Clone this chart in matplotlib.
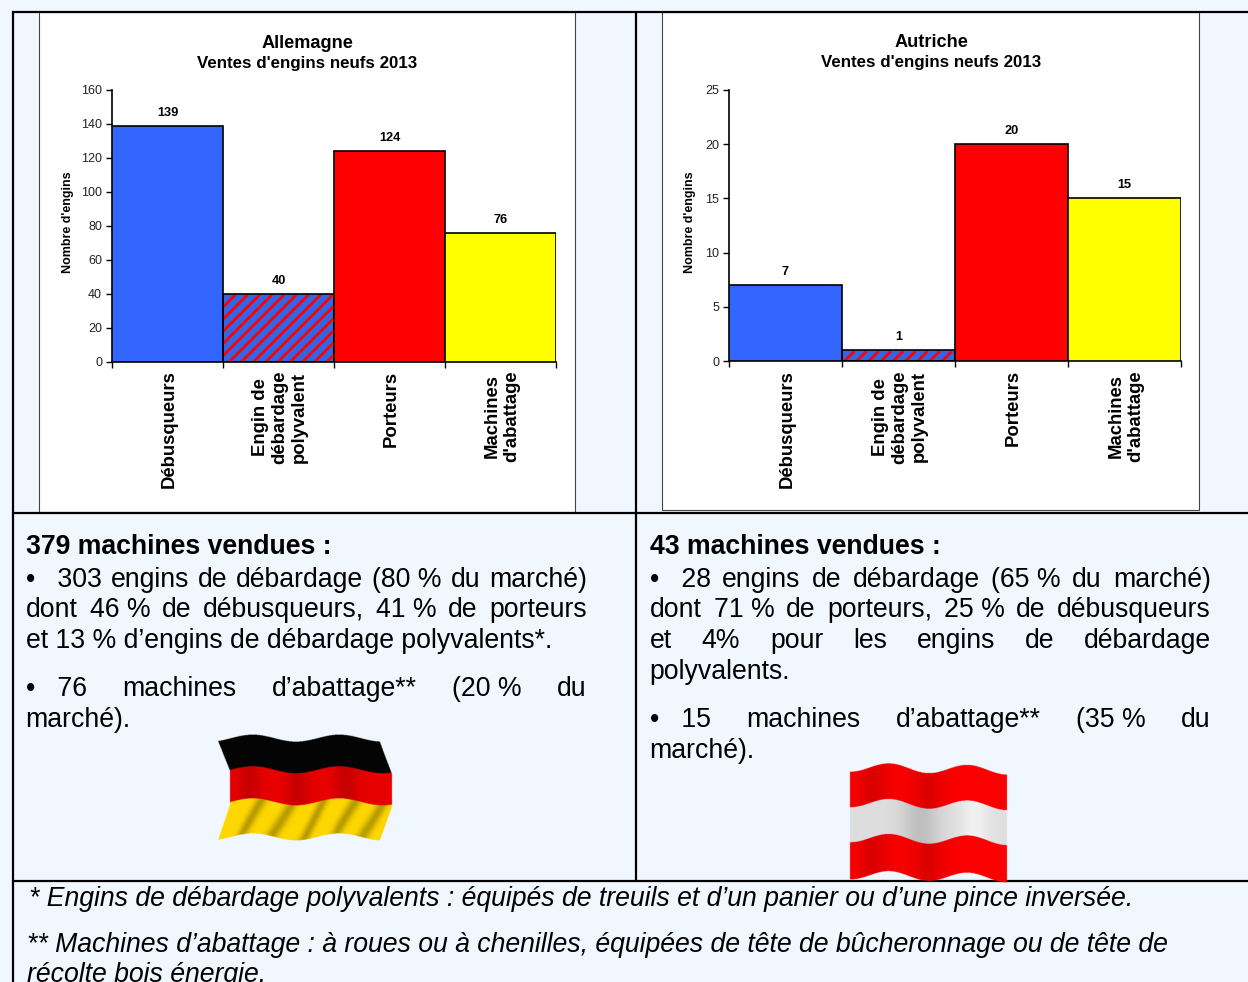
import numpy as np
import matplotlib
matplotlib.use('Agg')
import matplotlib.pyplot as plt
from matplotlib.patches import Rectangle
from matplotlib.transforms import IdentityTransform

plt.rcParams['font.family'] = ['Liberation Sans', 'DejaVu Sans']
W, H = 1248, 982
BG = '#f0f7ff'

categories = ['Débusqueurs', 'Engin de\ndébardage\npolyvalent', 'Porteurs', 'Machines\nd\'abattage']
de_values = [139, 40, 124, 76]
at_values = [7, 1, 20, 15]
de_ticks = [0, 20, 40, 60, 80, 100, 120, 140, 160]
at_ticks = [0, 5, 10, 15, 20, 25]
colors = ['#3366ff', '#3366e6', '#ff0000', '#ffff00']

fig = plt.figure(figsize=(W / 100, H / 100), dpi=100, facecolor=BG)
bgax = fig.add_axes([0, 0, 1, 1])
bgax.set_xlim(0, W); bgax.set_ylim(H, 0); bgax.axis('off')


def axpx(x0, y0, x1, y1):
    return fig.add_axes([x0 / W, 1 - y1 / H, (x1 - x0) / W, (y1 - y0) / H])


def stripes(ax, patch):
    """Red diagonal stripes clipped to one bar."""
    (xa, ya), (xb, yb) = ax.transData.transform([(patch.get_x(), 0),
                                                 (patch.get_x() + patch.get_width(), patch.get_height())])
    h = yb - ya - 1
    for s in np.arange(xa - h - 12, xb + 12, 12.2):
        ax.plot([s, s + h], [ya, ya + h], transform=IdentityTransform(), color='#ff0000', lw=2.0,
                clip_path=patch, zorder=2.5, scalex=False, scaley=False, solid_capstyle='butt')


def panel(px, py, px1, py1, x0, x1, y0, y1, title_y, title, vals, ticks, ymax, ylab_x):
    bgax.add_patch(Rectangle((px, py), px1 - px, py1 - py, fc='white', ec='#444444', lw=0.8, zorder=1))
    ax = axpx(x0, y0, x1, y1)
    ax.patch.set_alpha(0)
    ax.set_xlim(0, 4); ax.set_ylim(0, ymax)
    for i, (v, c) in enumerate(zip(vals, colors)):
        bars = ax.bar(i + .5, v, 1, color=c, edgecolor='black', lw=0 if i == 1 else 1.2, zorder=3 if i != 1 else 2)
        if i == 1:
            stripes(ax, bars[0])
            ax.bar(i + .5, v, 1, fill=False, edgecolor='black', lw=1.2, zorder=3)
        ax.annotate(str(v), (i + .5, v), xytext=(0, 7), textcoords='offset pixels', ha='center', va='bottom',
                    fontsize=9.2, fontweight='bold', color='black')
    ax.set_yticks(ticks)
    ax.set_xticks([0, 1, 2, 3, 4]); ax.set_xticklabels([])
    ax.tick_params(axis='y', length=4.5, width=1, labelsize=9, pad=2.6, direction='out', labelcolor='#222222')
    ax.tick_params(axis='x', length=4, width=1)
    for s in ('top', 'right'):
        ax.spines[s].set_visible(False)
    for s in ('left', 'bottom'):
        ax.spines[s].set_linewidth(1.2)
    mid = (px + px1) / 2 + (1 if px > 600 else 0)
    cw = (x1 - x0) / 4
    for i, lab in enumerate(categories):
        bgax.text(x0 + cw * (i + .5) + 1.5, y1 + 9, lab, rotation=90, ha='center', va='top', ma='center',
                  fontsize=13.3, fontweight='bold', linespacing=1.2, zorder=5)
    bgax.text(mid, title_y + 2, title, ha='center', va='center', fontsize=13.1, fontweight='bold', zorder=5)
    bgax.text(mid, title_y + 22, "Ventes d'engins neufs 2013", ha='center', va='center', fontsize=12.15,
              fontweight='bold', zorder=5)
    bgax.text(ylab_x, (y0 + y1) / 2 - 3.5, "Nombre d'engins", rotation=90, ha='center', va='center',
              fontsize=9, fontweight='bold', zorder=5)


panel(39, 12, 575, 512, 112, 556, 90, 361.5, 41.5, 'Allemagne', de_values, de_ticks, 160, 67.5)
panel(662, 12, 1199, 510, 729, 1181, 90, 361, 40.5, 'Autriche', at_values, at_ticks, 25, 690.5)

# grid of the table
for (xa, ya, xb, yb) in [(12, 11.5, W, 11.5), (12, 513, W, 513), (12, 881, W, 881),
                         (12.5, 11, 12.5, H), (636, 11, 636, 881)]:
    bgax.plot([xa, xb], [ya, yb], color='black', lw=1.6, solid_capstyle='butt', zorder=6)

FS = 19.2
renderer = fig.canvas.get_renderer()


def width(s, **kw):
    t = bgax.text(0, 0, s, fontsize=FS, **kw)
    w = t.get_window_extent(renderer).width
    t.remove()
    return w


def line(x0, x1, y, s, justify=True, **kw):
    y += 2
    if not justify:
        bgax.text(x0, y, s, fontsize=FS, va='center', **kw)
        return
    words = s.split(' ')
    ws = [width(w, **kw) for w in words]
    gap = (x1 - x0 - sum(ws)) / (len(words) - 1)
    x = x0
    for w, wd in zip(words, ws):
        bgax.text(x, y, w, fontsize=FS, va='center', **kw)
        x += wd + gap


b = '\u2022\u00a0\u00a0\u00a0'
# left cell
line(26, 587, 545, '379 machines vendues :', False, fontweight='bold')
line(26, 587, 578, f'{b}303 engins de débardage (80\u00a0% du marché)')
line(26, 587, 608, 'dont 46\u00a0% de débusqueurs, 41\u00a0% de porteurs')
line(25.5, 587, 639, 'et 13\u00a0% d’engins de débardage polyvalents*.', False)
line(26, 587, 687, f'{b}76 machines d’abattage** (20\u00a0% du')
line(25.5, 587, 718, 'marché).', False)
# right cell
line(650, 1211, 545, '43 machines vendues :', False, fontweight='bold')
line(650, 1211, 578, f'{b}28 engins de débardage (65\u00a0% du marché)')
line(650, 1211, 608, 'dont 71\u00a0% de porteurs, 25\u00a0% de débusqueurs')
line(650, 1211, 639, 'et 4% pour les engins de débardage')
line(649.5, 1211, 670, 'polyvalents.', False)
line(650, 1211, 718, f'{b}15 machines d’abattage** (35\u00a0% du')
line(649.5, 1211, 749, 'marché).', False)
# footnotes
line(29, 1211, 897, '* Engins de débardage polyvalents : équipés de treuils et d’un panier ou d’une pince inversée.', False, style='italic')
line(27, 1211, 943, '** Machines d’abattage : à roues ou à chenilles, équipées de tête de bûcheronnage ou de tête de', False, style='italic')
line(27, 1211, 973, 'récolte bois énergie.', False, style='italic')


def flag(xl, xr, top, bottom, band_cols, edges, shear, amp, cycles, peak, tilt, shade_fn):
    """Waving flag rendered as an RGBA image: wavy bands, sheared ends, soft folds."""
    x0, x1, y0, y1 = xl - shear - 3, xr + 3, top - 10, bottom + 10
    nx, ny = int(x1 - x0) * 3, int(y1 - y0) * 3
    X, Y = np.meshgrid(np.linspace(x0, x1, nx), np.linspace(y0, y1, ny))
    fx = (X - xl) / (xr - xl)
    wave = -amp * np.cos(2 * np.pi * cycles * (fx - peak)) + tilt * fx
    v = (Y - wave - top) / (bottom - top)
    off = np.where(v < .33, shear * (1 - np.clip(v, 0, .33) / .33),
                   np.where(v > .67, shear * (np.clip(v, .67, 1) - .67) / .33, 0))
    inside = (v >= 0) & (v <= 1) & (X >= xl - off) & (X <= xr - off)
    idx = np.clip(np.searchsorted(edges, v) - 1, 0, len(band_cols) - 1)
    rgb = np.array([matplotlib.colors.to_rgb(c) for c in band_cols])[idx]
    rgb = np.clip(rgb * shade_fn(fx, v, idx)[..., None], 0, 1)
    img = np.dstack([rgb, inside.astype(float)])
    ax = axpx(x0, y0, x1, y1)
    ax.axis('off'); ax.patch.set_alpha(0)
    ax.imshow(img, extent=(x0, x1, y1, y0), aspect='auto', interpolation='bilinear', zorder=7)


def folds(t, centers, width_, depth):
    s = np.ones_like(t)
    for c in centers:
        s -= depth * np.exp(-((t - c) / width_) ** 2)
    return s


def de_shade(fx, v, idx):
    s = folds(fx, [.12, .42, .72], .07, .14)
    yellow = folds(fx + .35 * (v - .7), [.18, .36, .56, .76, .92], .035, .28)
    return np.where(idx == 2, yellow, np.where(idx == 1, s, 1))


def at_shade(fx, v, idx):
    s = folds(fx, [.5, .15], .1, .12)
    white = folds(fx, [.45], .12, .14) * (1 + .08 * np.exp(-((fx - .8) / .1) ** 2))
    return np.where(idx == 1, white, s)


flag(230, 392, 738.5, 837.5, ['#050505', '#e80000', '#ffd800'], [0, .32, .645], 12, 3.5, 1.87, .14, 0, de_shade)
flag(850, 1007, 767, 875, ['#fb0000', '#dedede', '#fb0000'], [0, .33, .655], 0, 4.5, 2.0, .25, 3, at_shade)

fig.savefig('out.png', dpi=100, facecolor=BG)
